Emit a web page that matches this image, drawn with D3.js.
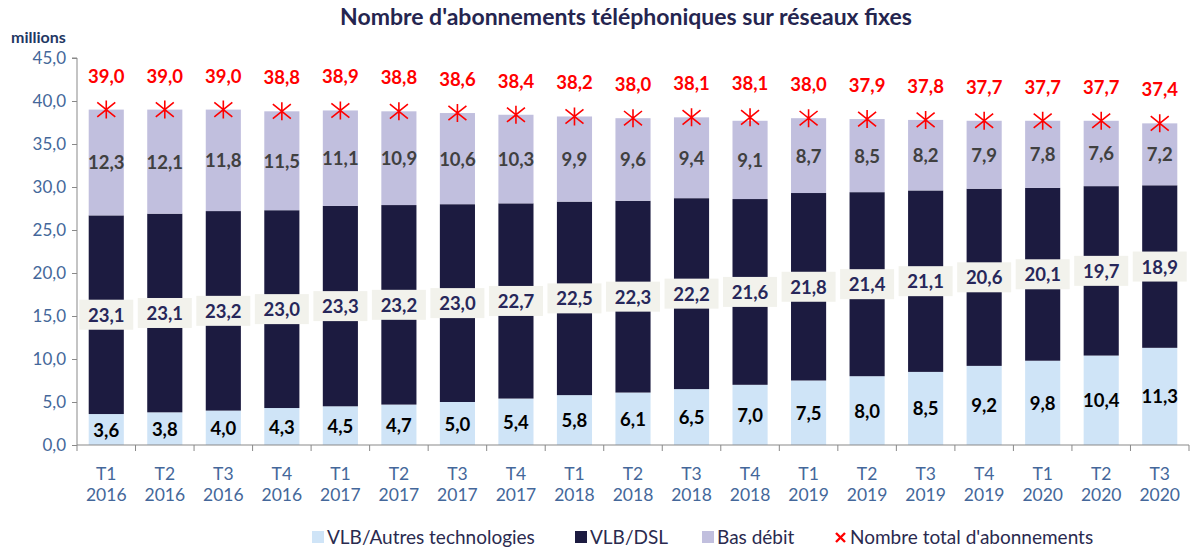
<!DOCTYPE html>
<html>
<head>
<meta charset="utf-8">
<script src="https://cdn.jsdelivr.net/npm/d3@7"></script>
<style>
  body { margin: 0; background: #fff; }
  svg text { font-family: Lato, "Open Sans", sans-serif; }
</style>
</head>
<body>
<div id="chart"></div>
<script>
const quarters = ["T1","T2","T3","T4","T1","T2","T3","T4","T1","T2","T3","T4","T1","T2","T3","T4","T1","T2","T3"];
const years = ["2016","2016","2016","2016","2017","2017","2017","2017","2018","2018","2018","2018","2019","2019","2019","2019","2020","2020","2020"];
const vlbAutres = [3.6,3.8,4.0,4.3,4.5,4.7,5.0,5.4,5.8,6.1,6.5,7.0,7.5,8.0,8.5,9.2,9.8,10.4,11.3];
const vlbDsl = [23.1,23.1,23.2,23.0,23.3,23.2,23.0,22.7,22.5,22.3,22.2,21.6,21.8,21.4,21.1,20.6,20.1,19.7,18.9];
const basDebit = [12.3,12.1,11.8,11.5,11.1,10.9,10.6,10.3,9.9,9.6,9.4,9.1,8.7,8.5,8.2,7.9,7.8,7.6,7.2];
const totals = [39.0,39.0,39.0,38.8,38.9,38.8,38.6,38.4,38.2,38.0,38.1,38.1,38.0,37.9,37.8,37.7,37.7,37.7,37.4];
const yTicks = [0,5,10,15,20,25,30,35,40,45];

const width = 1192, height = 551;
const margin = { top: 58, left: 77, right: 3, bottom: 106 };
const fmt = v => d3.format(".1f")(v).replace(".", ",");

const svg = d3.select("#chart").append("svg")
  .attr("width", width).attr("height", height);

const idx = d3.range(quarters.length);
const x = d3.scaleBand().domain(idx).range([margin.left, width - margin.right]).paddingInner(0.4).paddingOuter(0.2);
const y = d3.scaleLinear().domain([0, 45]).range([height - margin.bottom, margin.top]);

const keys = ["autres", "dsl", "bas"];
const colors = { autres: "#cfe4f7", dsl: "#1c1b40", bas: "#c1bfde" };
const rows = idx.map(i => ({ i, autres: vlbAutres[i], dsl: vlbDsl[i], bas: basDebit[i] }));
const series = d3.stack().keys(keys)(rows);

// title
svg.append("text").attr("x", 626).attr("y", 25).attr("text-anchor", "middle")
  .attr("font-size", 23).attr("font-weight", "bold").attr("fill", "#25254f")
  .text("Nombre d'abonnements téléphoniques sur réseaux fixes");
svg.append("text").attr("x", 11).attr("y", 43)
  .attr("font-size", 16).attr("font-weight", "bold").attr("fill", "#1f3864")
  .text("millions");

// y axis
const yAxis = svg.append("g").attr("transform", `translate(${margin.left},0)`)
  .call(d3.axisLeft(y).tickValues(yTicks).tickFormat(fmt).tickSize(5).tickPadding(6));
yAxis.select(".domain").attr("stroke", "#898989").attr("d", `M-5,${y(45)}H0V${y(0)}`);
yAxis.selectAll(".tick line").attr("stroke", "#898989");
yAxis.selectAll(".tick text").attr("font-size", 17).attr("fill", "#44679a")
  .style("font-family", "Lato, sans-serif");

// bars
svg.append("g").selectAll("g").data(series).join("g")
  .attr("fill", d => colors[d.key])
  .selectAll("rect").data(d => d).join("rect")
  .attr("x", d => x(d.data.i))
  .attr("width", x.bandwidth())
  .attr("y", d => y(d[1]))
  .attr("height", d => y(d[0]) - y(d[1]));

// x axis
const xg = svg.append("g");
const bandEdge = d => margin.left + d * x.step();
xg.append("line").attr("x1", margin.left).attr("x2", width - margin.right)
  .attr("y1", y(0)).attr("y2", y(0)).attr("stroke", "#898989");
xg.selectAll("line.tk").data(d3.range(quarters.length + 1)).join("line")
  .attr("class", "tk")
  .attr("x1", bandEdge).attr("x2", bandEdge)
  .attr("y1", y(0)).attr("y2", y(0) + 6).attr("stroke", "#898989");
const xl = xg.selectAll("text").data(idx).join("text")
  .attr("text-anchor", "middle").attr("font-size", 17.5).attr("fill", "#44679a");
xl.append("tspan").attr("x", d => x(d) + x.bandwidth() / 2).attr("y", y(0) + 35).text(d => quarters[d]);
xl.append("tspan").attr("x", d => x(d) + x.bandwidth() / 2).attr("y", y(0) + 56).text(d => years[d]);

// segment labels
const cx = i => x(i) + x.bandwidth() / 2;
svg.append("g").selectAll("text").data(series[0]).join("text")
  .attr("x", d => cx(d.data.i)).attr("y", d => y((d[0] + d[1]) / 2) + 7)
  .attr("text-anchor", "middle").attr("font-size", 18.5).attr("font-weight", "bold").attr("fill", "#000")
  .text(d => fmt(d[1] - d[0]));

const dslLab = svg.append("g").selectAll("g").data(series[1]).join("g")
  .attr("transform", d => `translate(${cx(d.data.i)},${y((d[0] + d[1]) / 2)})`);
dslLab.append("rect").attr("x", -27).attr("y", -15).attr("width", 54).attr("height", 30).attr("fill", "#f2f2ec");
dslLab.append("text").attr("y", 7).attr("text-anchor", "middle")
  .attr("font-size", 18.5).attr("font-weight", "bold").attr("fill", "#27275a")
  .text(d => fmt(d[1] - d[0]));

svg.append("g").selectAll("text").data(series[2]).join("text")
  .attr("x", d => cx(d.data.i)).attr("y", d => y((d[0] + d[1]) / 2) + 7)
  .attr("text-anchor", "middle").attr("font-size", 18.5).attr("font-weight", "bold").attr("fill", "#404040")
  .text(d => fmt(d[1] - d[0]));

// total markers
const star = (g, s) => {
  g.append("path")
    .attr("d", `M${-s},${-s * 0.8}L${s},${s * 0.8}M${-s},${s * 0.8}L${s},${-s * 0.8}M0,${-s}V${s}`)
    .attr("stroke", "#ff0000").attr("stroke-width", 1.6).attr("fill", "none");
};
const tot = svg.append("g").selectAll("g").data(idx).join("g")
  .attr("transform", i => `translate(${cx(i)},${y(totals[i])})`);
tot.each(function () { star(d3.select(this), 9); });
tot.append("text").attr("y", -27).attr("text-anchor", "middle")
  .attr("font-size", 18.5).attr("font-weight", "bold").attr("fill", "#ff0000")
  .text(i => fmt(totals[i]));

// legend
const legendItems = [
  { label: "VLB/Autres technologies", color: colors.autres, x: 312 },
  { label: "VLB/DSL", color: colors.dsl, x: 575 },
  { label: "Bas débit", color: colors.bas, x: 702 },
  { label: "Nombre total d'abonnements", color: null, x: 835 }
];
const lg = svg.append("g").selectAll("g").data(legendItems).join("g")
  .attr("transform", d => `translate(${d.x},537)`);
lg.filter(d => d.color).append("rect").attr("x", 0).attr("y", -6).attr("width", 12).attr("height", 12)
  .attr("fill", d => d.color);
lg.filter(d => !d.color).each(function () {
  d3.select(this).append("path").attr("d", "M1,-4L10,5M1,5L10,-4")
    .attr("stroke", "#ff0000").attr("stroke-width", 2.4);
});
lg.append("text").attr("x", 15).attr("y", 6.5).attr("font-size", 19).attr("fill", "#2a2a4f")
  .text(d => d.label);
</script>
</body>
</html>
